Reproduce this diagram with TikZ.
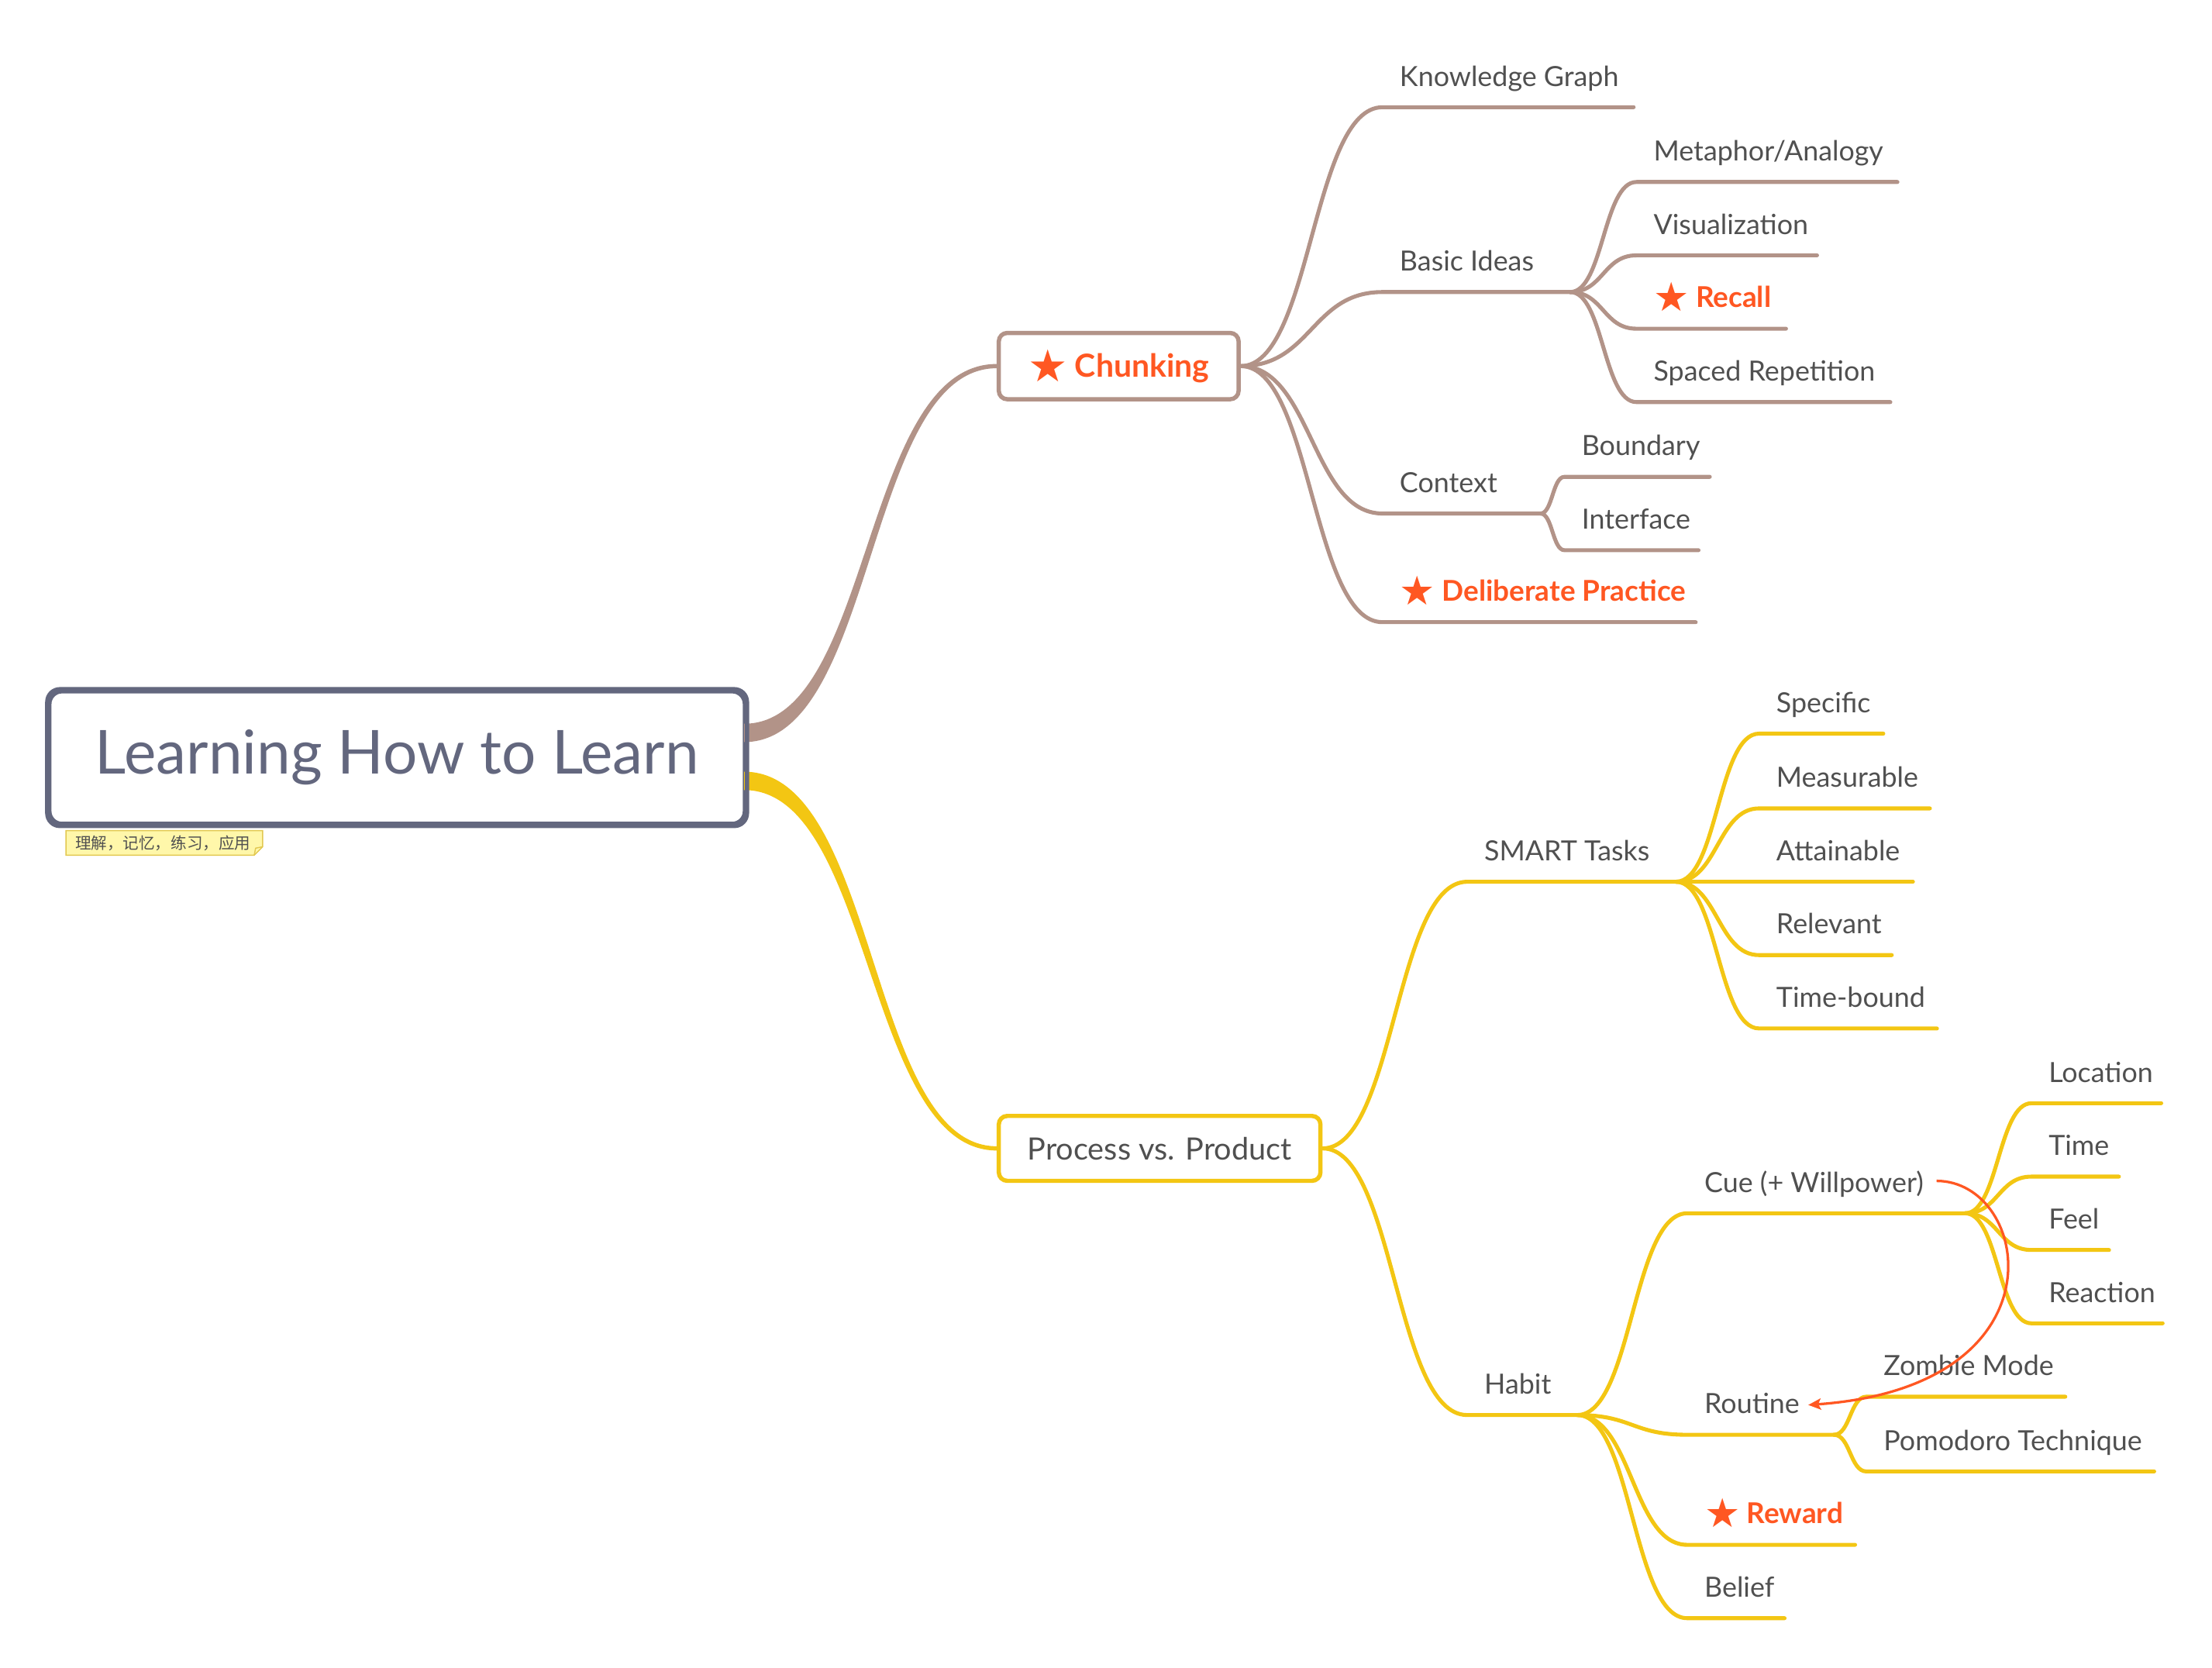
\documentclass[tikz,border=0pt]{standalone}
\usepackage{fontspec}
\setmainfont{Lato}
\newfontfamily\cjkf{Noto Sans CJK SC}
\newfontfamily\symf{DejaVu Sans}
\usetikzlibrary{calc,arrows.meta}
\definecolor{brn}{RGB}{178,147,136}
\definecolor{ylw}{RGB}{243,198,19}
\definecolor{org}{RGB}{255,87,34}
\definecolor{slate}{RGB}{99,103,126}
\definecolor{txt}{RGB}{80,80,80}
\definecolor{notefill}{RGB}{255,247,170}
\definecolor{noteline}{RGB}{226,200,80}
\tikzset{
  sbr/.style={to path={.. controls ($(\tikztostart)!0.5!(\tikztotarget |- \tikztostart)$) and ($(\tikztotarget)!0.5!(\tikztostart |- \tikztotarget)$) .. (\tikztotarget)}},
  lbl/.style={anchor=base west, inner sep=0pt, font=\fontsize{19.7}{23}\selectfont, text=txt},
  hot/.style={anchor=base west, inner sep=0pt, font=\fontsize{20.3}{23}\selectfont\bfseries, text=org},
  bline/.style={draw=brn, line width=2.8pt, line cap=round},
  yline/.style={draw=ylw, line width=2.8pt, line cap=round},
  topicbox/.style={line width=3pt, rounded corners=6pt, fill=white, inner sep=0pt},
}
\newcommand\stargl{\raisebox{-0.14em}{\scalebox{1.4}{\symf ★}}\hspace{0.22em}}
\newcommand\kid[8]{%
  \coordinate (#1-in) at (#3,#4);
  \coordinate (#1-out) at (#5,#4);
  \node[#7] (#1) at ($(#1-in)+(12,-15)$) {#8};
  \draw[#6] (#2) to[sbr] (#1-in) -- (#1-out);
}
\begin{document}
\begin{tikzpicture}[x=1pt,y=-1pt]
\useasboundingbox (0,0) rectangle (1568,1182);

% central topic
\node[draw=slate, line width=3pt, rounded corners=9pt, inner sep=0pt,
  minimum width=493pt, minimum height=94pt,
  font=\fontsize{43}{50}\selectfont, text=slate] (root) at (281.5,537) {Learning How to Learn};

% main topics
\node[topicbox, draw=brn, minimum width=170pt, minimum height=47pt,
  font=\fontsize{22.5}{26}\selectfont\bfseries, text=org] (chunk) at (793,259.5) {\stargl Chunking};
\node[topicbox, draw=ylw, minimum width=228pt, minimum height=46pt,
  font=\fontsize{21.8}{25}\selectfont, text=txt] (proc) at (822,814) {Process vs. Product};

% tapered main branches
\fill[brn] ($(root.east)+(-2,-24)$) .. controls ($(root.east)+(89,-24)$) and ($(chunk.west)+(-96,-1.5)$) .. ($(chunk.west)+(0,-1.5)$)
  -- ($(chunk.west)+(0,1.5)$) .. controls ($(chunk.west)+(-93,1.5)$) and ($(root.east)+(92,-11)$) .. ($(root.east)+(-2,-11)$) -- cycle;
\fill[ylw] ($(root.east)+(-2,10)$) .. controls ($(root.east)+(93,10)$) and ($(proc.west)+(-91,-1.5)$) .. ($(proc.west)+(0,-1.5)$)
  -- ($(proc.west)+(0,1.5)$) .. controls ($(proc.west)+(-93,1.5)$) and ($(root.east)+(89,23)$) .. ($(root.east)+(-2,23)$) -- cycle;
\draw[draw=slate, line width=3pt, rounded corners=9pt] (root.south west) rectangle (root.north east);

% note
\node[inner sep=0pt, minimum width=139pt, minimum height=17pt] (memo) at (116.5,597.5) {};
\filldraw[fill=notefill, draw=noteline, line width=0.8pt]
  (memo.north west) -- (memo.north east) -- ($(memo.south east)+(0,-6)$) -- ($(memo.south east)+(-6,0)$) -- (memo.south west) -- cycle;
\draw[draw=noteline, line width=0.8pt] ($(memo.south east)+(0,-6)$) -- ($(memo.south east)+(-5,-5)$) -- ($(memo.south east)+(-6,0)$);
\node[inner sep=0pt, font=\cjkf\fontsize{11.3}{13}\selectfont, text=txt] (memotext) at ($(memo.center)+(-1,0)$) {理解，记忆，练习，应用};

% Chunking subtree
\kid{kg}{chunk.east}{980}{76}{1158}{bline}{lbl}{Knowledge Graph}
\kid{basic}{chunk.east}{980}{207}{1113}{bline}{lbl}{Basic Ideas}
\kid{ctx}{chunk.east}{980}{364}{1092}{bline}{lbl}{Context}
\kid{delib}{chunk.east}{980}{441}{1202}{bline}{hot}{\stargl Deliberate Practice}

\kid{meta}{basic-out}{1160}{129}{1345}{bline}{lbl}{Metaphor/Analogy}
\kid{vis}{basic-out}{1160}{181}{1288}{bline}{lbl}{Visualization}
\kid{recall}{basic-out}{1160}{233}{1266}{bline}{hot}{\stargl Recall}
\kid{spaced}{basic-out}{1160}{285}{1340}{bline}{lbl}{Spaced Repetition}

\kid{bound}{ctx-out}{1109}{338}{1212}{bline}{lbl}{Boundary}
\kid{iface}{ctx-out}{1109}{390}{1204}{bline}{lbl}{Interface}

% Process subtree
\kid{smart}{proc.east}{1040}{625}{1188}{yline}{lbl}{SMART Tasks}
\kid{habit}{proc.east}{1040}{1003}{1118}{yline}{lbl}{Habit}

\kid{spec}{smart-out}{1247}{520}{1335}{yline}{lbl}{Specific}
\kid{meas}{smart-out}{1247}{573}{1368}{yline}{lbl}{Measurable}
\kid{attn}{smart-out}{1247}{625}{1356}{yline}{lbl}{Attainable}
\kid{relv}{smart-out}{1247}{677}{1341}{yline}{lbl}{Relevant}
\kid{tbnd}{smart-out}{1247}{729}{1373}{yline}{lbl}{Time-bound}

\kid{cue}{habit-out}{1196}{860}{1393}{yline}{lbl}{Cue (+ Willpower)}
\kid{rout}{habit-out}{1196}{1017}{1300}{yline}{lbl}{Routine}
\kid{rew}{habit-out}{1196}{1095}{1315}{yline}{hot}{\stargl Reward}
\kid{bel}{habit-out}{1196}{1147}{1265}{yline}{lbl}{Belief}

\kid{loc}{cue-out}{1440}{782}{1532}{yline}{lbl}{Location}
\kid{time}{cue-out}{1440}{834}{1502}{yline}{lbl}{Time}
\kid{feel}{cue-out}{1440}{886}{1495}{yline}{lbl}{Feel}
\kid{react}{cue-out}{1440}{938}{1533}{yline}{lbl}{Reaction}

\kid{zomb}{rout-out}{1323}{990}{1464}{yline}{lbl}{Zombie Mode}
\kid{pomo}{rout-out}{1323}{1043}{1527}{yline}{lbl}{Pomodoro Technique}

% relationship arrow
\draw[draw=org, line width=1.8pt, -{Stealth[length=9pt,width=8pt,inset=2pt]}]
  ($(cue.east)+(9,-2)$) .. controls ($(cue.east)+(76,-2)$) and ($(rout.east)+(190,-12)$) .. ($(rout.east)+(6,1)$);
\end{tikzpicture}
\end{document}
